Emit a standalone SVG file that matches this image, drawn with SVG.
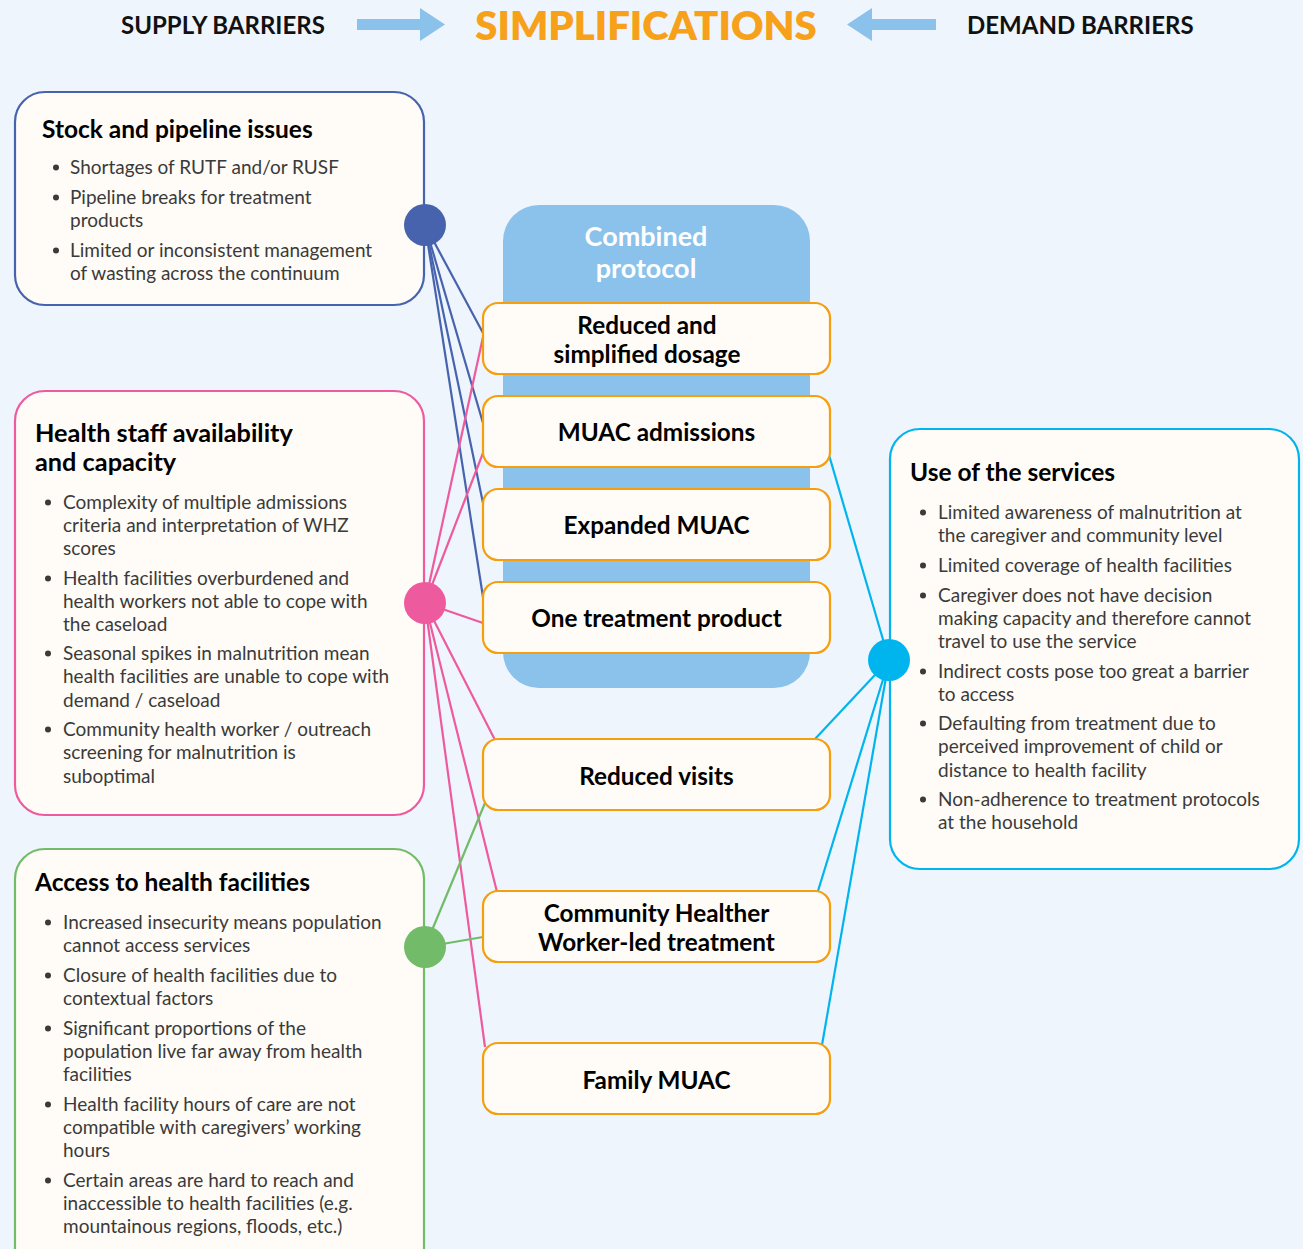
<svg xmlns="http://www.w3.org/2000/svg" width="1303" height="1249" viewBox="0 0 1303 1249">
  <defs>
    <style>
      .bg { fill: #EEF5FC; }
      .card { fill: #FFFCF7; stroke-width: 2.2; }
      .simp { fill: #FFFCF7; stroke: #F59F0E; stroke-width: 2.2; }
      .hdr { font-family: Lato, "Open Sans", sans-serif; font-weight: 700; font-size: 24px; fill: #111; }
      .big { font-family: Lato, "Open Sans", sans-serif; font-weight: 800; font-size: 40px; fill: #F7A11A; }
      .ttl { font-family: Lato, "Open Sans", sans-serif; font-weight: 700; font-size: 24.5px; fill: #000; }
      .body { font-family: Lato, "Open Sans", sans-serif; font-size: 19px; fill: #3a3a3a; }
      .lbl { font-family: Lato, "Open Sans", sans-serif; font-weight: 700; font-size: 24.3px; fill: #000; text-anchor: middle; }
      .cp { font-family: Lato, "Open Sans", sans-serif; font-weight: 700; font-size: 27px; fill: #fff; text-anchor: middle; }
      .blt { fill: #3a3a3a; }
      .c-blue { stroke: #4763AE; }
      .c-pink { stroke: #EE5A9E; }
      .c-green { stroke: #72BB69; }
      .c-cyan { stroke: #00B5EE; }
      #connectors line { stroke-width: 2.2; fill: none; }
      .arrow { fill: #8AC2EC; }
    </style>
  </defs>

  <rect class="bg" x="0" y="0" width="1303" height="1249"/>

  <!-- header -->
  <g id="header">
    <text class="hdr" x="121" y="34">SUPPLY BARRIERS</text>
    <polygon class="arrow" points="357,19 420,19 420,8 445,24.5 420,41 420,30 357,30"/>
    <text class="big" x="646" y="40" text-anchor="middle">SIMPLIFICATIONS</text>
    <polygon class="arrow" points="936,19 872,19 872,8 847,24.5 872,41 872,30 936,30"/>
    <text class="hdr" x="967" y="34">DEMAND BARRIERS</text>
  </g>

  <!-- combined protocol backdrop -->
  <g id="combined-protocol">
    <rect x="503" y="205" width="307" height="483" rx="36" fill="#8AC2EC"/>
    <text class="cp" x="646" y="246">Combined</text>
    <text class="cp" x="646" y="278">protocol</text>
  </g>

  <!-- connectors -->
  <g id="connectors">
    <line class="c-blue" x1="425" y1="225" x2="483" y2="333"/>
    <line class="c-blue" x1="425" y1="225" x2="483" y2="423"/>
    <line class="c-blue" x1="425" y1="225" x2="483" y2="503"/>
    <line class="c-blue" x1="425" y1="225" x2="483" y2="597"/>
    <line class="c-pink" x1="425" y1="603" x2="483" y2="337"/>
    <line class="c-pink" x1="425" y1="603" x2="483" y2="453"/>
    <line class="c-pink" x1="425" y1="603" x2="483" y2="623"/>
    <line class="c-pink" x1="425" y1="603" x2="495" y2="740"/>
    <line class="c-pink" x1="425" y1="603" x2="497" y2="892"/>
    <line class="c-pink" x1="425" y1="603" x2="485" y2="1047"/>
    <line class="c-green" x1="425" y1="947" x2="485" y2="803"/>
    <line class="c-green" x1="425" y1="947" x2="483" y2="937"/>
    <line class="c-cyan" x1="889" y1="660" x2="829" y2="455"/>
    <line class="c-cyan" x1="889" y1="660" x2="815" y2="739"/>
    <line class="c-cyan" x1="889" y1="660" x2="818" y2="891"/>
    <line class="c-cyan" x1="889" y1="660" x2="822" y2="1045"/>
  </g>

  <!-- supply barriers -->
  <g id="stock-pipeline">
    <rect class="card" x="15" y="92" width="409" height="213" rx="30" stroke="#4763AE"/>
    <text class="ttl" x="42" y="138">Stock and pipeline issues</text>
    <circle class="blt" cx="56" cy="167.5" r="3"/>
    <text class="body" x="70" y="174">Shortages of RUTF and/or RUSF</text>
    <circle class="blt" cx="56" cy="197.5" r="3"/>
    <text class="body" x="70" y="204">Pipeline breaks for treatment</text>
    <text class="body" x="70" y="227">products</text>
    <circle class="blt" cx="56" cy="250.5" r="3"/>
    <text class="body" x="70" y="257">Limited or inconsistent management</text>
    <text class="body" x="70" y="280">of wasting across the continuum</text>
    <circle cx="425" cy="225" r="21" fill="#4763AE"/>
  </g>

  <g id="health-staff">
    <rect class="card" x="15" y="391" width="409" height="424" rx="30" stroke="#EE5A9E"/>
    <text class="ttl" x="35" y="442" style="font-size:25.3px">Health staff availability</text>
    <text class="ttl" x="35" y="471" style="font-size:25.3px">and capacity</text>
    <circle class="blt" cx="48" cy="502.5" r="3"/>
    <text class="body" x="63" y="509">Complexity of multiple admissions</text>
    <text class="body" x="63" y="532">criteria and interpretation of WHZ</text>
    <text class="body" x="63" y="555">scores</text>
    <circle class="blt" cx="48" cy="578.5" r="3"/>
    <text class="body" x="63" y="585">Health facilities overburdened and</text>
    <text class="body" x="63" y="608">health workers not able to cope with</text>
    <text class="body" x="63" y="631">the caseload</text>
    <circle class="blt" cx="48" cy="653.5" r="3"/>
    <text class="body" x="63" y="660">Seasonal spikes in malnutrition mean</text>
    <text class="body" x="63" y="683">health facilities are unable to cope with</text>
    <text class="body" x="63" y="707">demand / caseload</text>
    <circle class="blt" cx="48" cy="729.5" r="3"/>
    <text class="body" x="63" y="736">Community health worker / outreach</text>
    <text class="body" x="63" y="759">screening for malnutrition is</text>
    <text class="body" x="63" y="783">suboptimal</text>
    <circle cx="425" cy="603" r="21" fill="#EE5A9E"/>
  </g>

  <g id="access">
    <rect class="card" x="15" y="849" width="409" height="440" rx="30" stroke="#72BB69"/>
    <text class="ttl" x="35" y="891">Access to health facilities</text>
    <circle class="blt" cx="48" cy="922.5" r="3"/>
    <text class="body" x="63" y="929">Increased insecurity means population</text>
    <text class="body" x="63" y="952">cannot access services</text>
    <circle class="blt" cx="48" cy="975.5" r="3"/>
    <text class="body" x="63" y="982">Closure of health facilities due to</text>
    <text class="body" x="63" y="1005">contextual factors</text>
    <circle class="blt" cx="48" cy="1028.5" r="3"/>
    <text class="body" x="63" y="1035">Significant proportions of the</text>
    <text class="body" x="63" y="1058">population live far away from health</text>
    <text class="body" x="63" y="1081">facilities</text>
    <circle class="blt" cx="48" cy="1104.5" r="3"/>
    <text class="body" x="63" y="1111">Health facility hours of care are not</text>
    <text class="body" x="63" y="1134">compatible with caregivers’ working</text>
    <text class="body" x="63" y="1157">hours</text>
    <circle class="blt" cx="48" cy="1180.5" r="3"/>
    <text class="body" x="63" y="1187">Certain areas are hard to reach and</text>
    <text class="body" x="63" y="1210">inaccessible to health facilities (e.g.</text>
    <text class="body" x="63" y="1233">mountainous regions, floods, etc.)</text>
    <circle cx="425" cy="947" r="21" fill="#72BB69"/>
  </g>

  <!-- demand barriers -->
  <g id="use-of-services">
    <rect class="card" x="890" y="429" width="409" height="440" rx="30" stroke="#00B5EE"/>
    <text class="ttl" x="910" y="481">Use of the services</text>
    <circle class="blt" cx="923" cy="512.5" r="3"/>
    <text class="body" x="938" y="519">Limited awareness of malnutrition at</text>
    <text class="body" x="938" y="542">the caregiver and community level</text>
    <circle class="blt" cx="923" cy="565.5" r="3"/>
    <text class="body" x="938" y="572">Limited coverage of health facilities</text>
    <circle class="blt" cx="923" cy="595.5" r="3"/>
    <text class="body" x="938" y="602">Caregiver does not have decision</text>
    <text class="body" x="938" y="625">making capacity and therefore cannot</text>
    <text class="body" x="938" y="648">travel to use the service</text>
    <circle class="blt" cx="923" cy="671.5" r="3"/>
    <text class="body" x="938" y="678">Indirect costs pose too great a barrier</text>
    <text class="body" x="938" y="701">to access</text>
    <circle class="blt" cx="923" cy="723.5" r="3"/>
    <text class="body" x="938" y="730">Defaulting from treatment due to</text>
    <text class="body" x="938" y="753">perceived improvement of child or</text>
    <text class="body" x="938" y="777">distance to health facility</text>
    <circle class="blt" cx="923" cy="799.5" r="3"/>
    <text class="body" x="938" y="806">Non-adherence to treatment protocols</text>
    <text class="body" x="938" y="829">at the household</text>
    <circle cx="889" cy="660" r="21" fill="#00B5EE"/>
  </g>

  <!-- simplifications -->
  <g id="reduced-dosage">
    <rect class="simp" x="483" y="303" width="347" height="71" rx="15"/>
    <text class="lbl" x="647" y="334">Reduced and</text>
    <text class="lbl" x="647" y="363">simplified dosage</text>
  </g>
  <g id="muac-admissions">
    <rect class="simp" x="483" y="396" width="347" height="71" rx="15"/>
    <text class="lbl" x="656.5" y="441">MUAC admissions</text>
  </g>
  <g id="expanded-muac">
    <rect class="simp" x="483" y="489" width="347" height="71" rx="15"/>
    <text class="lbl" x="656.5" y="534">Expanded MUAC</text>
  </g>
  <g id="one-product">
    <rect class="simp" x="483" y="582" width="347" height="71" rx="15"/>
    <text class="lbl" x="656.5" y="627">One treatment product</text>
  </g>
  <g id="reduced-visits">
    <rect class="simp" x="483" y="739" width="347" height="71" rx="15"/>
    <text class="lbl" x="656.5" y="785">Reduced visits</text>
  </g>
  <g id="chw-treatment">
    <rect class="simp" x="483" y="891" width="347" height="71" rx="15"/>
    <text class="lbl" x="656.5" y="922">Community Healther</text>
    <text class="lbl" x="656.5" y="951">Worker-led treatment</text>
  </g>
  <g id="family-muac">
    <rect class="simp" x="483" y="1043" width="347" height="71" rx="15"/>
    <text class="lbl" x="656.5" y="1089">Family MUAC</text>
  </g>
</svg>
